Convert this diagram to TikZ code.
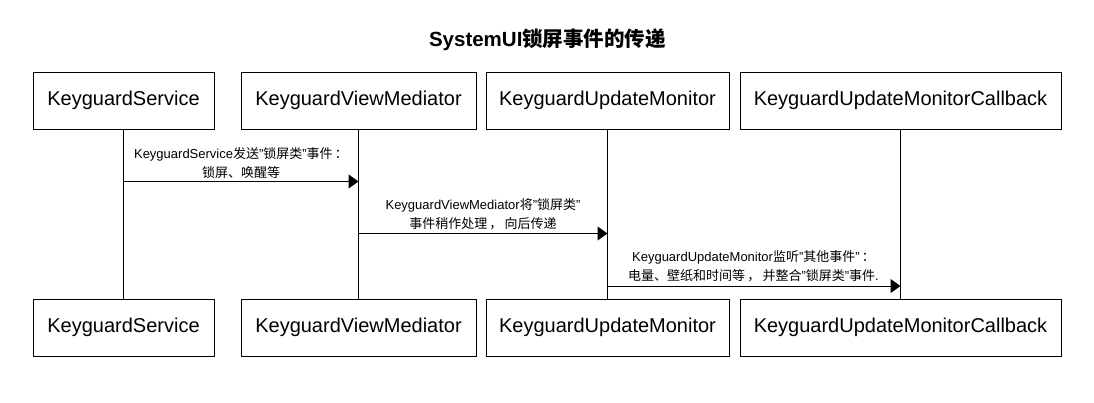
\documentclass[tikz,border=0pt]{standalone}
\usepackage{fontspec}
\setmainfont{Liberation Sans}
\newfontfamily\cjk{Noto Sans CJK SC}
\newcommand\zh[1]{{\cjk #1}}
\usetikzlibrary{arrows.meta}
\begin{document}
\begin{tikzpicture}[x=1pt,y=-1pt,
  actor/.style={draw=black, line width=1pt, fill=white, minimum height=57pt, inner sep=0pt, font=\fontsize{20}{22}\selectfont},
  msg/.style={-{Triangle[length=10pt,width=14pt]}, line width=1pt},
  life/.style={line width=1pt},
  lbl/.style={font=\fontsize{13}{18.5}\selectfont, align=center, inner sep=0pt}]
\useasboundingbox (0,0) rectangle (1094,402);
\node[font=\fontsize{20.5}{24}\selectfont\bfseries] (title) at (547.5,40) {SystemUI\zh{锁屏事件的传递}};
% top actors
\node[actor, minimum width=181pt] (a1) at (123.5,100.5) {KeyguardService};
\node[actor, minimum width=235pt] (a2) at (358.5,100.5) {KeyguardViewMediator};
\node[actor, minimum width=243pt] (a3) at (607.5,100.5) {KeyguardUpdateMonitor};
\node[actor, minimum width=321pt] (a4) at (900.5,100.5) {KeyguardUpdateMonitorCallback};
% bottom actors
\node[actor, minimum width=181pt] (b1) at (123.5,327.5) {KeyguardService};
\node[actor, minimum width=235pt] (b2) at (358.5,327.5) {KeyguardViewMediator};
\node[actor, minimum width=243pt] (b3) at (607.5,327.5) {KeyguardUpdateMonitor};
\node[actor, minimum width=321pt] (b4) at (900.5,327.5) {KeyguardUpdateMonitorCallback};
% lifelines
\draw[life] (a1.south) -- (b1.north);
\draw[life] (a2.south) -- (b2.north);
\draw[life] (a3.south) -- (b3.north);
\draw[life] (a4.south) -- (b4.north);
% messages
\path (a1.south) ++(0,52) coordinate (s1);
\path (a2.south) ++(0,104) coordinate (s2);
\path (a3.south) ++(0,156.5) coordinate (s3);
\coordinate (e1) at (s1 -| a2.south);
\coordinate (e2) at (s2 -| a3.south);
\coordinate (e3) at (s3 -| a4.south);
\draw[msg] (s1) -- (e1);
\draw[msg] (s2) -- (e2);
\draw[msg] (s3) -- (e3);
% labels
\node[lbl] (l1) at (241,163) {KeyguardService\zh{发送}"\zh{锁屏类}"\zh{事件}\,\zh{：}\\\zh{锁屏、唤醒等}};
\node[lbl] (l2) at (483,214) {KeyguardViewMediator\zh{将}"\zh{锁屏类}"\\\zh{事件稍作处理}\,\zh{，}\,\zh{向后传递}};
\node[lbl] (l3) at (753.5,266) {KeyguardUpdateMonitor\zh{监听}"\zh{其他事件}"\,\zh{：}\\\zh{电量、壁纸和时间等}\,\zh{，}\,\zh{并整合}"\zh{锁屏类}"\zh{事件}.};
\end{tikzpicture}
\end{document}
